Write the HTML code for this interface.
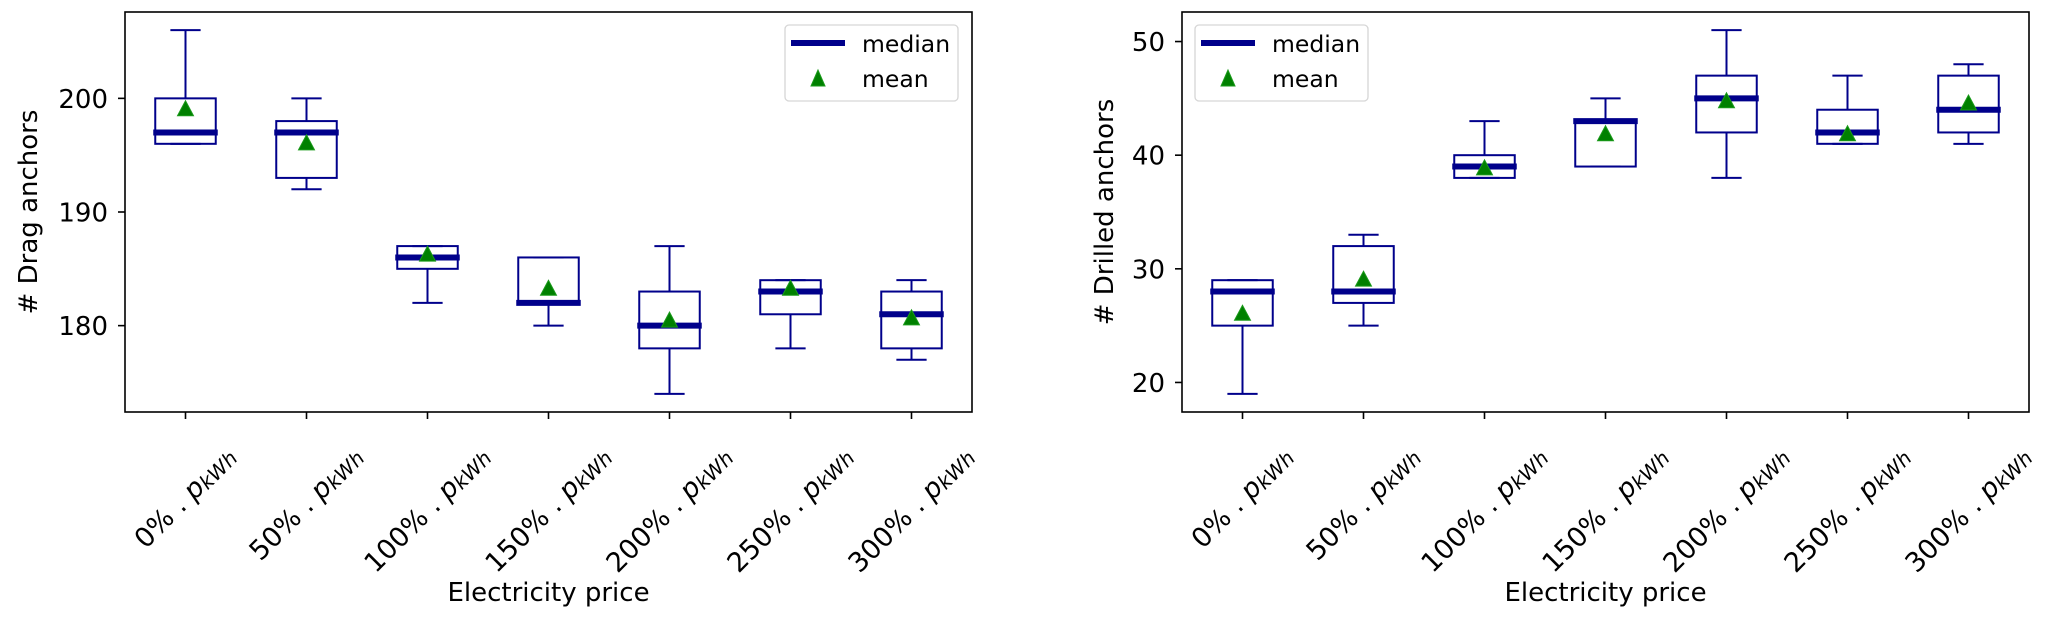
<!DOCTYPE html>
<html><head><meta charset="utf-8">
<style>
html,body{margin:0;padding:0;background:#fff;}
svg{display:block;font-family:"DejaVu Sans","Liberation Sans",sans-serif;}
</style></head>
<body>
<svg id="chart" width="2067" height="620" viewBox="0 0 2067 620" xmlns="http://www.w3.org/2000/svg"></svg>
<script>
const categories = ["0%", "50%", "100%", "150%", "200%", "250%", "300%"];
// left chart: Drag anchors
const dragWhisLo = [196, 192, 182, 180, 174, 178, 177];
const dragQ1     = [196, 193, 185, 182, 178, 181, 178];
const dragMedian = [197, 197, 186, 182, 180, 183, 181];
const dragQ3     = [200, 198, 187, 186, 183, 184, 183];
const dragWhisHi = [206, 200, 187, 186, 187, 184, 184];
const dragMean   = [199, 196, 186.2, 183.2, 180.4, 183.2, 180.6];
const dragTicks  = [180, 190, 200];
// right chart: Drilled anchors
const drillWhisLo = [19, 25, 38, 39, 38, 41, 41];
const drillQ1     = [25, 27, 38, 39, 42, 41, 42];
const drillMedian = [28, 28, 39, 43, 45, 42, 44];
const drillQ3     = [29, 32, 40, 43, 47, 44, 47];
const drillWhisHi = [29, 33, 43, 45, 51, 47, 48];
const drillMean   = [26, 29, 38.8, 41.8, 44.7, 41.8, 44.5];
const drillTicks  = [20, 30, 40, 50];

const NS = "http://www.w3.org/2000/svg";
const svg = document.getElementById("chart");
const BLUE = "#00008b", GREEN = "#008000";
const FS = 26;
function mk(tag, attrs, parent) {
  const e = document.createElementNS(NS, tag);
  for (const k in attrs) e.setAttribute(k, attrs[k]);
  (parent || svg).appendChild(e);
  return e;
}

function drawPanel(cfg) {
  const g = mk("g", {});
  
  
  const L = cfg.left, R = cfg.left + 847, T = 12, B = 412;
  const all = cfg.lo.concat(cfg.hi);
  const mn = Math.min(...all), mx = Math.max(...all), pad = (mx - mn) * 0.05;
  const y0 = mn - pad, y1 = mx + pad;
  const y = v => B - (v - y0) / (y1 - y0) * (B - T);
  const x = i => L + (i + 0.5) / categories.length * (R - L);
  const bw = (R - L) / categories.length * 0.5;
  const cw = bw / 2;

  categories.forEach((c, i) => {
    const bg = mk("g", {}, g);
    
    
    const cx = x(i);
    const ln = (x1, y1_, x2, y2, w, col) => mk("line", {x1, y1: y1_, x2, y2, stroke: col, "stroke-width": w}, bg);
    ln(cx, y(cfg.q3[i]), cx, y(cfg.hi[i]), 2, BLUE);
    ln(cx, y(cfg.q1[i]), cx, y(cfg.lo[i]), 2, BLUE);
    ln(cx - cw / 2, y(cfg.hi[i]), cx + cw / 2, y(cfg.hi[i]), 2, BLUE);
    ln(cx - cw / 2, y(cfg.lo[i]), cx + cw / 2, y(cfg.lo[i]), 2, BLUE);
    const r = mk("rect", {x: cx - bw / 2, y: y(cfg.q3[i]), width: bw, height: Math.max(0, y(cfg.q1[i]) - y(cfg.q3[i])), fill: "none", stroke: BLUE, "stroke-width": 2}, bg);
    
    
    const m = ln(cx - bw / 2 - 2, y(cfg.med[i]), cx + bw / 2 + 2, y(cfg.med[i]), 6, BLUE);
    
    
    const my = y(cfg.mean[i]);
    const t = mk("polygon", {points: `${cx},${my - 9} ${cx - 8},${my + 6} ${cx + 8},${my + 6}`, fill: GREEN, stroke: "#1a9a1a", "stroke-width": 1}, bg);
    
    
  });

  const fr = mk("rect", {x: L, y: T, width: R - L, height: B - T, fill: "none", stroke: "#000", "stroke-width": 1.6}, g);
  
  

  cfg.ticks.forEach(v => {
    mk("line", {x1: L - 7, y1: y(v), x2: L, y2: y(v), stroke: "#000", "stroke-width": 1.6}, g);
    const t = mk("text", {x: L - 17, y: y(v) + 9.5, "text-anchor": "end", "font-size": FS, fill: "#000"}, g);
    t.textContent = v;
    
    
  });

  categories.forEach((c, i) => {
    const cx = x(i);
    mk("line", {x1: cx, y1: B, x2: cx, y2: B + 7, stroke: "#000", "stroke-width": 1.6}, g);
    const t = mk("text", {x: 0, y: 0, "text-anchor": "middle", "font-size": 27, fill: "#000"}, g);
    
    
    const a = document.createElementNS(NS, "tspan"); a.textContent = c + " . "; t.appendChild(a);
    const p = document.createElementNS(NS, "tspan"); p.textContent = "p"; p.setAttribute("font-style", "italic"); t.appendChild(p);
    const s = document.createElementNS(NS, "tspan"); s.textContent = "kWh"; s.setAttribute("font-style", "italic"); s.setAttribute("font-size", "20"); s.setAttribute("dy", "2"); t.appendChild(s);
    t.setAttribute("transform", `translate(${cx},480) rotate(-45)`);
    try {
      const bb = t.getBoundingClientRect();
      const sr = svg.getBoundingClientRect();
      const dx = cx - ((bb.left + bb.right) / 2 - sr.left);
      const dy = 441 - (bb.top - sr.top);
      t.setAttribute("transform", `translate(${cx + dx},${480 + dy}) rotate(-45)`);
    } catch (e) {}
  });

  const yl = mk("text", {x: 0, y: 0, "text-anchor": "middle", "font-size": FS, fill: "#000", transform: `translate(${cfg.ylabelX},${(T + B) / 2}) rotate(-90)`}, g);
  yl.textContent = cfg.ylabel;
  
  
  const xl = mk("text", {x: (L + R) / 2, y: 601, "text-anchor": "middle", "font-size": FS, fill: "#000"}, g);
  xl.textContent = "Electricity price";
  
  

  const lg = mk("g", {}, g);
  
  
  const lx = cfg.legendX;
  mk("rect", {x: lx, y: 25, width: 173, height: 76, rx: 4, fill: "#fff", "fill-opacity": 0.8, stroke: "#d6d6d6", "stroke-width": 1.3}, lg);
  const e1 = mk("line", {x1: lx + 6, y1: 43, x2: lx + 60, y2: 43, stroke: BLUE, "stroke-width": 6}, lg);
  
  
  const t1 = mk("text", {x: lx + 77, y: 52, "font-size": 23.5, fill: "#000"}, lg);
  t1.textContent = "median";
  
  
  const mxp = lx + 33, myp = 79;
  const e2 = mk("polygon", {points: `${mxp},${myp - 9} ${mxp - 7},${myp + 7} ${mxp + 7},${myp + 7}`, fill: GREEN, stroke: "#1a9a1a", "stroke-width": 1}, lg);
  
  
  const t2 = mk("text", {x: lx + 77, y: 87, "font-size": 23.5, fill: "#000"}, lg);
  t2.textContent = "mean";
  
  
}

drawPanel({name: "drag-anchors-chart", left: 125, lo: dragWhisLo, q1: dragQ1, med: dragMedian, q3: dragQ3, hi: dragWhisHi, mean: dragMean, ticks: dragTicks, ylabel: "# Drag anchors", ylabelX: 37, legendX: 785});
drawPanel({name: "drilled-anchors-chart", left: 1182, lo: drillWhisLo, q1: drillQ1, med: drillMedian, q3: drillQ3, hi: drillWhisHi, mean: drillMean, ticks: drillTicks, ylabel: "# Drilled anchors", ylabelX: 1113, legendX: 1195});
</script>
</body></html>
